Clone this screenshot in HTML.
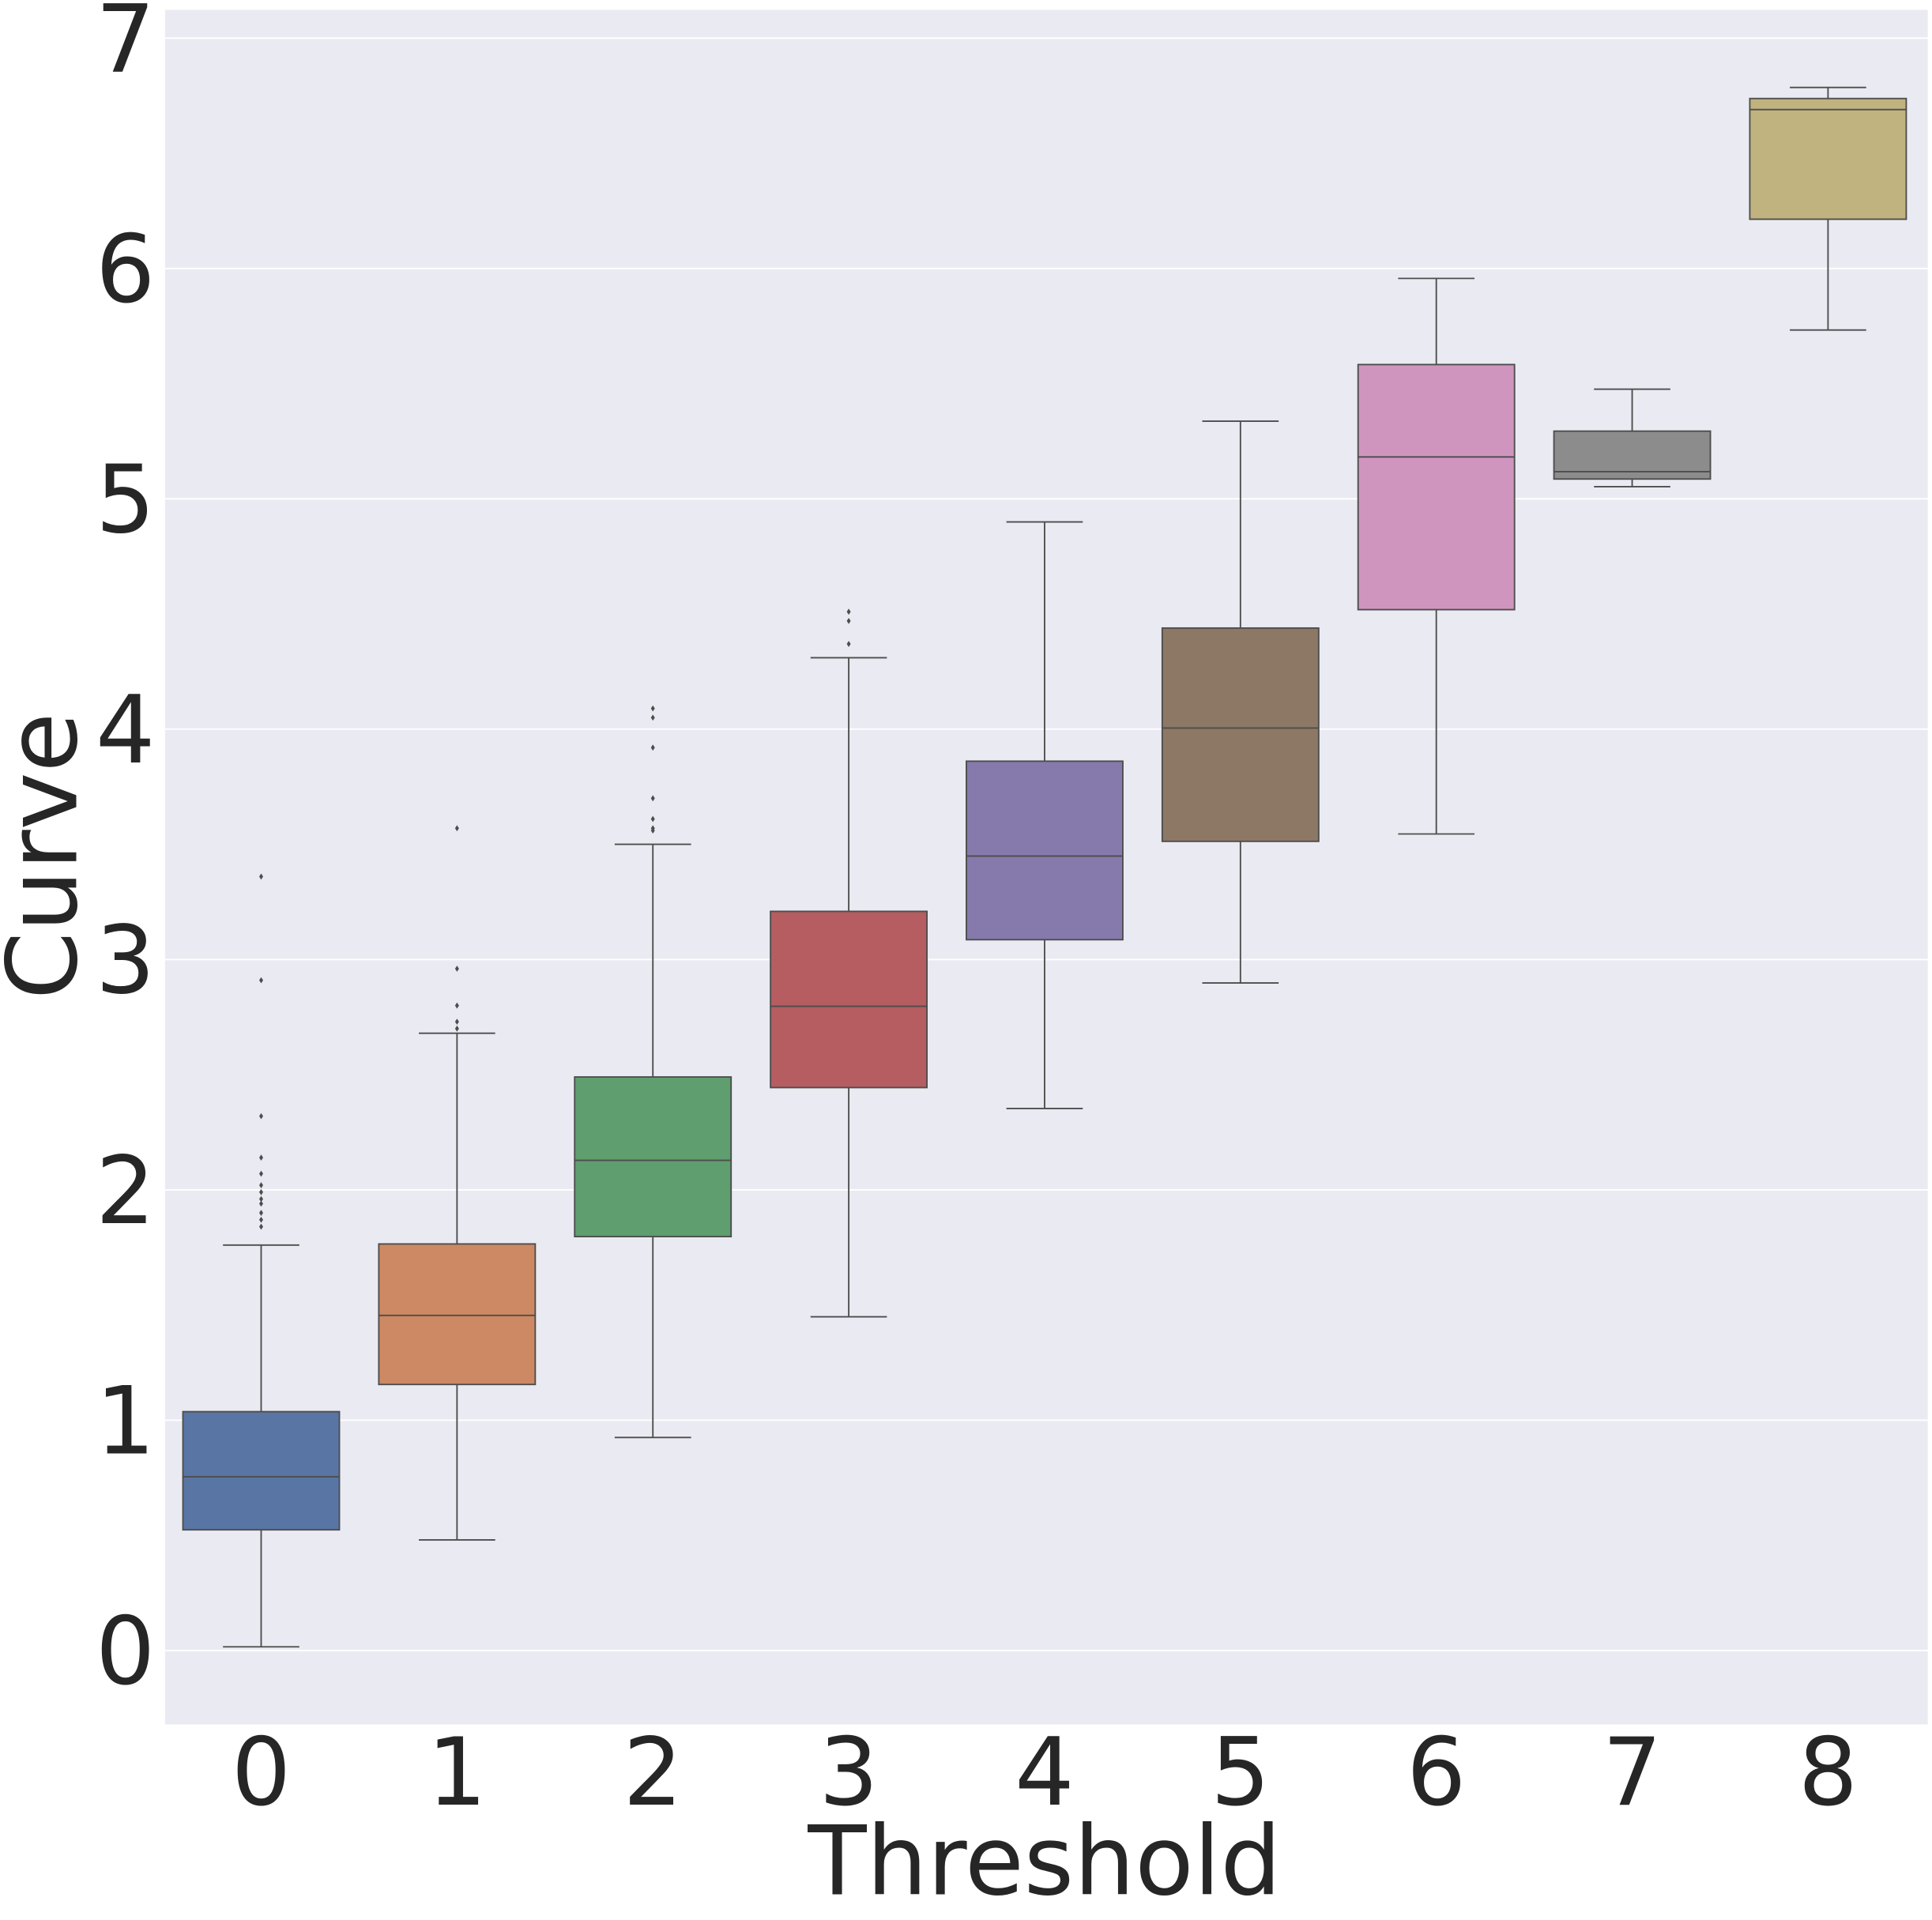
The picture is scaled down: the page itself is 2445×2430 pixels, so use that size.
<!DOCTYPE html>
<html><head><meta charset="utf-8"><style>
html,body{margin:0;padding:0;background:#fff;}
svg{display:block;}
text{font-family:"DejaVu Sans","Liberation Sans",sans-serif;fill:#262626;}
</style></head><body>
<svg id="chart" width="2445" height="2430" viewBox="0 0 1568.4 1558.8" xmlns="http://www.w3.org/2000/svg">
<rect x="134" y="8" width="1431" height="1392" fill="#eaeaf2"/>
<g id="grid"></g>
<g id="boxes"></g>
<g id="yticks"></g>
<g id="xticks"></g>
<text x="848" y="1538" font-size="78" text-anchor="middle">Threshold</text>
<text transform="translate(62,695) rotate(-90)" font-size="79" text-anchor="middle">Curve</text>
</svg>
<script>
const categories = ["0","1","2","3","4","5","6","7","8"];
const q1Values = [0.524,1.155,1.797,2.444,3.086,3.513,4.519,5.086,6.214];
const medianValues = [0.754,1.455,2.128,2.797,3.449,4.005,5.182,5.118,6.69];
const q3Values = [1.037,1.765,2.49,3.209,3.861,4.439,5.583,5.294,6.738];
const whiskerLow = [0.016,0.48,0.925,1.449,2.353,2.898,3.545,5.053,5.733];
const whiskerHigh = [1.76,2.68,3.50,4.31,4.90,5.337,5.957,5.476,6.786];
const outliers0 = [3.36,2.91,2.32,2.14,2.07,2.02,1.99,1.96,1.94,1.90,1.87,1.84];
const outliers1 = [3.57,2.96,2.80,2.73,2.70];
const outliers2 = [4.09,4.05,3.92,3.70,3.61,3.57,3.56];
const outliers3 = [4.51,4.47,4.37];
const outlierSets = [outliers0,outliers1,outliers2,outliers3,[],[],[],[],[]];
const yTicks = [0,1,2,3,4,5,6,7];
const colors = ["#5875a4","#cc8963","#5f9e6e","#b55d60","#857aab","#8d7866","#d095bf","#8c8c8c","#c1b37f"];

const NS="http://www.w3.org/2000/svg";
function y(v){return 1340-(1340-31)/7*v;}
function x(i){return 212+159*i;}
const boxW=127, capW=62, lc="#4d4d4d";
function mk(tag,attrs,parent){const e=document.createElementNS(NS,tag);for(const k in attrs)e.setAttribute(k,attrs[k]);parent.appendChild(e);return e;}
const grid=document.getElementById('grid'), boxes=document.getElementById('boxes'), yt=document.getElementById('yticks'), xt=document.getElementById('xticks');
yTicks.forEach(t=>{
  const l=mk('line',{x1:134,x2:1565,y1:y(t),y2:y(t),stroke:"#fff","stroke-width":1.2},grid);
  
  
  const tx=mk('text',{x:126,y:y(t)+27,"font-size":76,"text-anchor":"end"},yt);
  tx.textContent=t;
  
  
});
categories.forEach((c,i)=>{
  const cx=x(i);
  const g=mk('g',{},boxes);
  
  
  mk('line',{x1:cx,x2:cx,y1:y(whiskerLow[i]),y2:y(q1Values[i]),stroke:lc,"stroke-width":1.2},g);
  mk('line',{x1:cx,x2:cx,y1:y(q3Values[i]),y2:y(whiskerHigh[i]),stroke:lc,"stroke-width":1.2},g);
  mk('line',{x1:cx-capW/2,x2:cx+capW/2,y1:y(whiskerLow[i]),y2:y(whiskerLow[i]),stroke:lc,"stroke-width":1.2},g);
  mk('line',{x1:cx-capW/2,x2:cx+capW/2,y1:y(whiskerHigh[i]),y2:y(whiskerHigh[i]),stroke:lc,"stroke-width":1.2},g);
  mk('rect',{x:cx-boxW/2,y:y(q3Values[i]),width:boxW,height:y(q1Values[i])-y(q3Values[i]),fill:colors[i],stroke:lc,"stroke-width":1.2},g);
  mk('line',{x1:cx-boxW/2,x2:cx+boxW/2,y1:y(medianValues[i]),y2:y(medianValues[i]),stroke:lc,"stroke-width":1.2},g);
  outlierSets[i].forEach(v=>{
    const d=mk('path',{d:`M${cx},${y(v)-2.5} L${cx+1.6},${y(v)} L${cx},${y(v)+2.5} L${cx-1.6},${y(v)} Z`,fill:lc},g);
    
    
  });
  const tx=mk('text',{x:cx,y:1465,"font-size":76,"text-anchor":"middle"},xt);
  tx.textContent=c;
  
  
});
</script>
</body></html>
